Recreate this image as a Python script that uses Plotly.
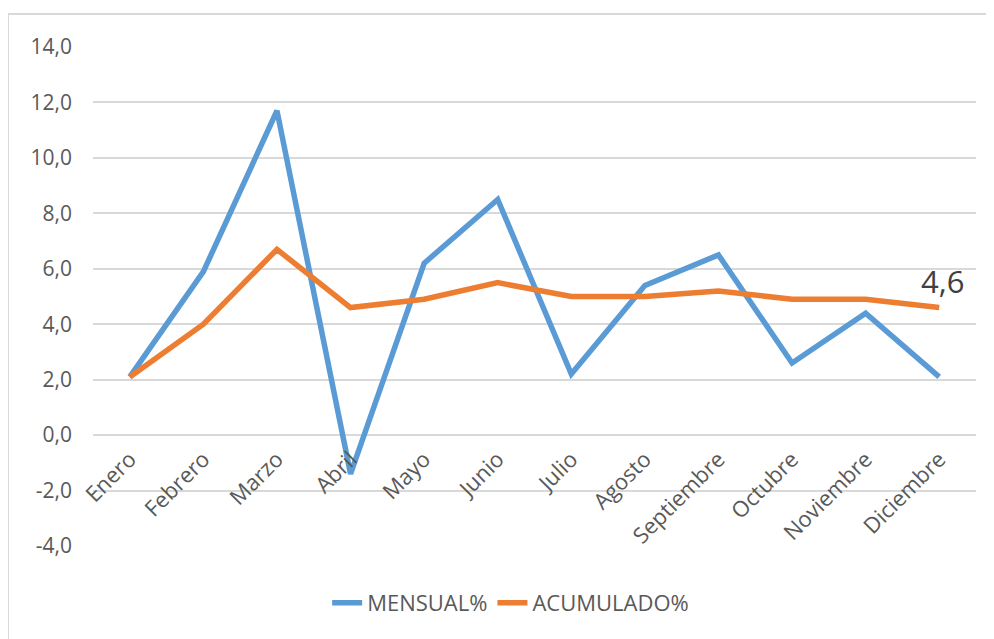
import plotly.graph_objects as go

meses = ["Enero", "Febrero", "Marzo", "Abril", "Mayo", "Junio", "Julio",
         "Agosto", "Septiembre", "Octubre", "Noviembre", "Diciembre"]
mensual = [2.1, 5.9, 11.7, -1.4, 6.2, 8.5, 2.2, 5.4, 6.5, 2.6, 4.4, 2.1]
acumulado = [2.1, 4.0, 6.7, 4.6, 4.9, 5.5, 5.0, 5.0, 5.2, 4.9, 4.9, 4.6]
y_ticks = [-4, -2, 0, 2, 4, 6, 8, 10, 12, 14]
y_ticktext = [f"{v:.1f}".replace(".", ",") for v in y_ticks]

FONT = "Open Sans"
TXT = "#595959"
GRID = "#d9d9d9"

fig = go.Figure()
fig.add_trace(go.Scatter(x=meses, y=mensual, mode="lines", name="MENSUAL%",
                         line=dict(color="#5b9bd5", width=5.5), cliponaxis=False))
fig.add_trace(go.Scatter(x=meses, y=acumulado, mode="lines", name="ACUMULADO%",
                         line=dict(color="#ed7d31", width=5.5), cliponaxis=False))

last = acumulado[-1]
fig.add_annotation(x=meses[-1], y=last, text=f"{last:.1f}".replace(".", ","),
                   showarrow=False, xshift=3, yshift=27,
                   font=dict(family=FONT, size=31, color="#404040"))

# outer chart border (page body margin shifts everything by 8px)
fig.add_shape(type="rect", xref="paper", yref="paper",
              x0=-85 / 883, x1=1.2, y0=-0.3, y1=(538 - 6) / 499,
              line=dict(color=GRID, width=2), layer="below")

ymin, ymax = y_ticks[0], y_ticks[-1]
fig.update_layout(
    width=994, height=639,
    margin=dict(l=85, r=26, t=39, b=101),
    paper_bgcolor="white", plot_bgcolor="white",
    font=dict(family=FONT, size=21, color=TXT),
    showlegend=True,
    legend=dict(orientation="h", x=0.473, xanchor="center", y=-0.114, yanchor="middle",
                font=dict(family=FONT, size=22, color=TXT), itemwidth=30,
                tracegroupgap=0),
    xaxis=dict(type="category", range=[-0.5, len(meses) - 0.5], showgrid=False,
               zeroline=False, showline=False, ticks="", tickangle=-45,
               anchor="free", position=(0 - ymin) / (ymax - ymin),
               ticklabelstandoff=6,
               tickfont=dict(family=FONT, size=22, color=TXT)),
    yaxis=dict(range=[ymin, ymax], tickvals=y_ticks, ticktext=y_ticktext,
               showgrid=True, gridcolor=GRID, gridwidth=2, zeroline=False,
               showline=False, ticks="", ticklabelstandoff=20,
               tickfont=dict(family=FONT, size=21, color=TXT), domain=[0, 1]),
)

fig.write_html("out.html")
